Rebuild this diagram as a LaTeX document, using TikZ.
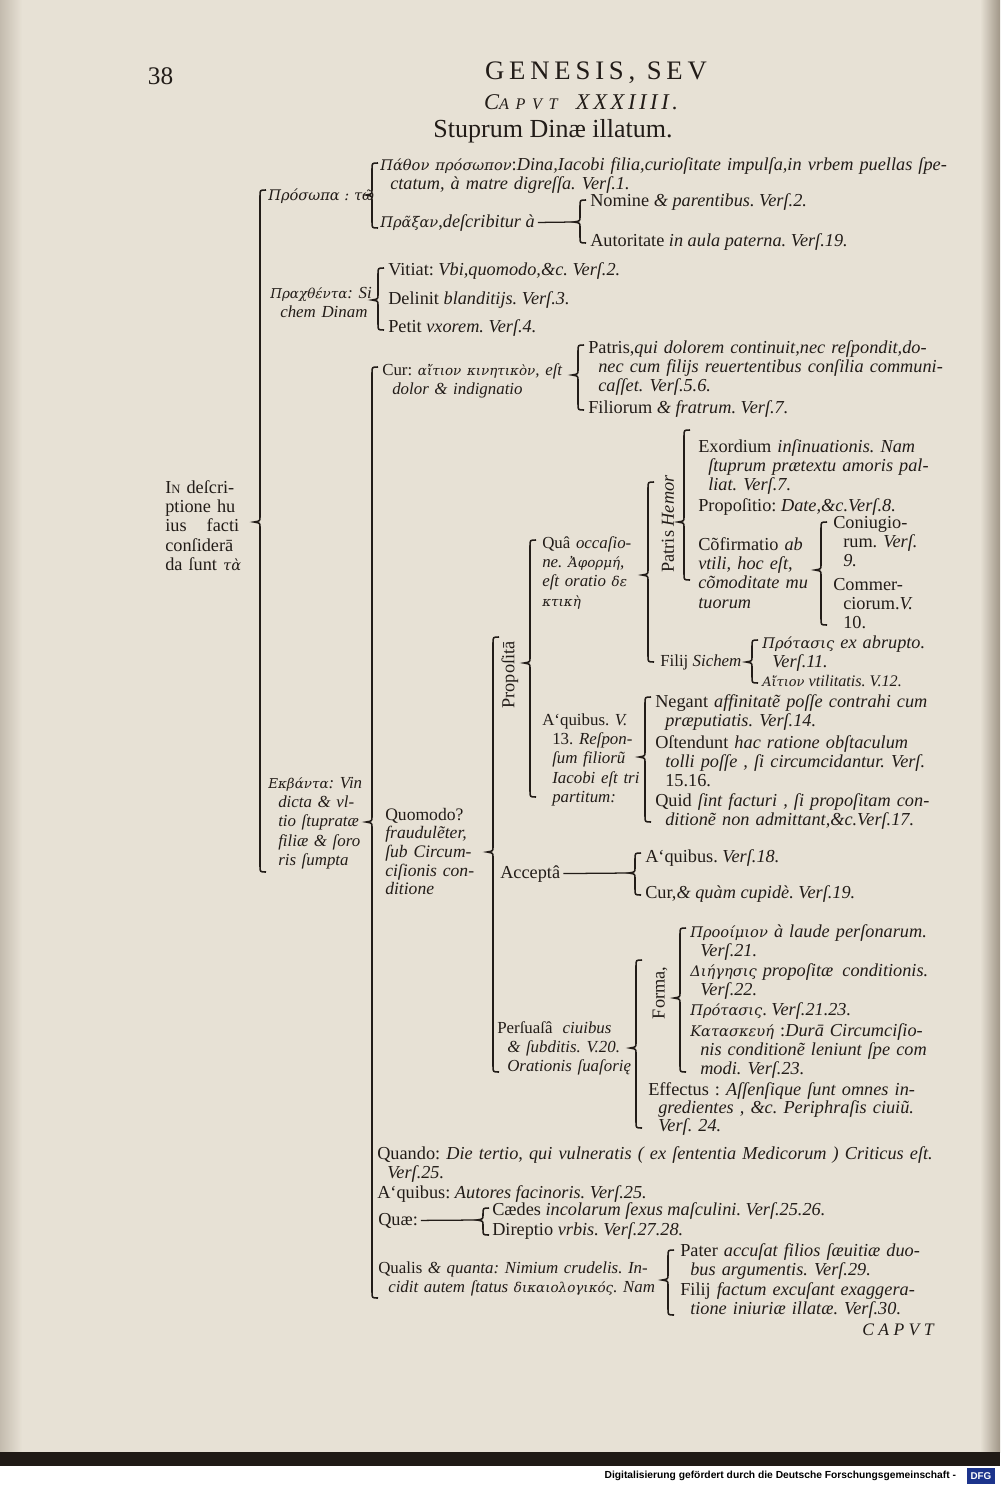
\documentclass[tikz,border=0pt]{standalone}
\usepackage{fontspec}
\setmainfont{Liberation Serif}
\newfontfamily\grk[Scale=0.8]{DejaVu Serif}
\newfontfamily\footfont{Liberation Sans}
\definecolor{paper}{RGB}{231,225,213}
\definecolor{edgegray}{RGB}{160,150,135}
\definecolor{scanblack}{RGB}{32,26,22}
\definecolor{ink}{RGB}{34,28,24}
\definecolor{dfgblue}{RGB}{28,52,140}
\newcommand{\indt}{\hspace*{0.25cm}}
\frenchspacing
% curly bracket: name, x, top, tip, bottom
\newcommand{\tiebrace}[5]{%
  \draw[brace] (#2+6,#3) .. controls (#2,#3) .. (#2,#3+6) -- (#2,#4-5)
    .. controls (#2,#4-1) .. (#2-6,#4) .. controls (#2,#4+1) .. (#2,#4+5)
    -- (#2,#5-6) .. controls (#2,#5) .. (#2+6,#5);
  \coordinate (#1) at (#2-6,#4);}
\tikzset{
  brace/.style={draw=ink, line width=1.1pt},
  entry/.style={anchor=base west, inner sep=0pt, text=ink, font=\fontsize{13}{13.8}\selectfont},
  entryblock/.style={entry, align=left, text width=16cm},
  tight/.style={font=\fontsize{12}{13.8}\selectfont},
  sidelabel/.style={rotate=90, inner sep=0pt, text=ink, font=\fontsize{13}{13.8}\selectfont},
  dashline/.style={draw=ink, line width=0.9pt, shorten <=2pt}
}
\begin{document}
\begin{tikzpicture}[x=0.025cm, y=-0.025cm]
  \useasboundingbox (0,0) rectangle (1000,1485);
  % paper and scan edges
  \fill[paper] (0,0) rectangle (1000,1452);
  \shade[left color=paper, right color=edgegray] (980,0) rectangle (1000,1452);
  \shade[left color=edgegray!50!paper, right color=paper] (0,0) rectangle (22,1452);
  \fill[scanblack] (0,1452) rectangle (1000,1466);
  \fill[white] (0,1466) rectangle (1000,1485);

  % heading
  \node[anchor=west, text=ink, font=\fontsize{18}{18}\selectfont] (pagenum) at (143,76) {38};
  \node[text=ink, font=\fontsize{19}{19}\selectfont\addfontfeatures{LetterSpace=18}] (runhead) at (596,73) {GENESIS, SEV};
  \node[text=ink, font=\fontsize{16}{16}\selectfont\itshape\addfontfeatures{LetterSpace=16}] (caput) at (581,102) {C{\fontsize{11.5}{11}\selectfont A P V T}\ \ XXXIIII.};
  \node[text=ink, font=\fontsize{18.5}{18}\selectfont] (title) at (553,131) {Stuprum Dinæ illatum.};

  % root
  \node[entryblock] (root) at (165,493) {I{\small N} deſcri-\\ptione hu\\ius\hspace{1.1em}facti\\conſiderā\\da ſunt {\grk\itshape τὰ}};

  % persons
  \node[entry] (prosopa) at (268,200) {{\grk\itshape Πρόσωπα : τῶ}};
  \node[entryblock] (pathon) at (380,170) {{\grk\itshape Πάθον πρόσωπον}:\textit{Dina,Iacobi filia,curioſitate impulſa,in vrbem puellas ſpe-}\\\indt\textit{ctatum, à matre digreſſa. Verſ.1.}};
  \node[entry] (praxan) at (380,227) {{\grk\itshape Πρᾶξαν},\textit{deſcribitur à}};
  \node[entry] (nomine) at (590,206) {Nomine \textit{\& parentibus. Verſ.2.}};
  \node[entry] (autoritate) at (590,246) {Autoritate \textit{in aula paterna. Verſ.19.}};

  % deeds
  \node[entryblock, tight] (prachthenta) at (270,298) {\textit{{\grk Πραχθέντα}: Si}\\\indt\textit{chem Dinam}};
  \node[entry] (vitiat) at (388,275) {Vitiat: \textit{Vbi,quomodo,\&c. Verſ.2.}};
  \node[entry] (delinit) at (388,304) {Delinit \textit{blanditijs. Verſ.3.}};
  \node[entry] (petit) at (388,332) {Petit \textit{vxorem. Verſ.4.}};

  % outcomes
  \node[entryblock, tight] (ekbanta) at (268,788) {\textit{{\grk Εκβάντα}: Vin}\\\indt\textit{dicta \& vl-}\\\indt\textit{tio ſtupratæ}\\\indt\textit{filiæ \& ſoro}\\\indt\textit{ris ſumpta}};
  \node[entryblock, tight] (cur) at (382,375) {Cur: \textit{{\grk αἴτιον κινητικὸν}, eſt}\\\indt\textit{dolor \& indignatio}};
  \node[entryblock] (patris) at (588,353) {Patris,\textit{qui dolorem continuit,nec reſpondit,do-}\\\indt\textit{nec cum filijs reuertentibus conſilia communi-}\\\indt\textit{caſſet. Verſ.5.6.}};
  \node[entry] (filiorum) at (588,413) {Filiorum \textit{\& fratrum. Verſ.7.}};

  \node[entryblock, font=\fontsize{12.5}{13.3}\selectfont] (quomodo) at (385,820) {Quomodo?\\\textit{fraudulẽter,}\\\textit{ſub Circum-}\\\textit{ciſionis con-}\\\textit{ditione}};
  \node[sidelabel] (proposita) at (510,675) {Propoſitā};

  \node[entryblock, tight] (qua) at (542,548) {Quâ \textit{occaſio-}\\\textit{ne. {\grk Ἀφορμή},}\\\textit{eſt oratio {\grk δε}}\\\textit{{\grk κτικὴ}}};
  \node[sidelabel] (hemor) at (668,524) {Patris \textit{Hemor}};
  \node[entryblock] (exordium) at (698,452) {Exordium \textit{inſinuationis. Nam}\\\indt\textit{ſtuprum prætextu amoris pal-}\\\indt\textit{liat. Verſ.7.}};
  \node[entry] (propositio) at (698,511) {Propoſitio: \textit{Date,\&c.Verſ.8.}};
  \node[entryblock] (confirmatio) at (698,550) {Cõfirmatio \textit{ab}\\\textit{vtili, hoc eſt,}\\\textit{cõmoditate mu}\\\textit{tuorum}};
  \node[entryblock] (coniugio) at (833,528) {Coniugio-\\\indt rum. \textit{Verſ.}\\\indt\textit{9.}};
  \node[entryblock] (commer) at (833,590) {Commer-\\\indt ciorum.\textit{V.}\\\indt 10.};
  \node[entry, tight] (sichem) at (660,666) {Filij \textit{Sichem}};
  \node[entryblock] (protasis) at (762,648) {{\grk\itshape Πρότασις} \textit{ex abrupto.}\\\indt\textit{Verſ.11.}};
  \node[entry, font=\fontsize{11.5}{12}\selectfont] (aition) at (762,686) {{\grk\itshape Αἴτιον} \textit{vtilitatis. V.12.}};

  \node[entryblock, tight] (aquibus) at (542,725) {A‘quibus. \textit{V.}\\\indt 13. \textit{Reſpon-}\\\indt\textit{ſum filiorũ}\\\indt\textit{Iacobi eſt tri}\\\indt\textit{partitum:}};
  \node[entryblock] (negant) at (655,707) {Negant \textit{affinitatẽ poſſe contrahi cum}\\\indt\textit{præputiatis. Verſ.14.}};
  \node[entryblock] (ostendunt) at (655,748) {Oſtendunt \textit{hac ratione obſtaculum}\\\indt\textit{tolli poſſe , ſi circumcidantur. Verſ.}\\\indt 15.16.};
  \node[entryblock] (quid) at (655,806) {Quid \textit{ſint facturi , ſi propoſitam con-}\\\indt\textit{ditionẽ non admittant,\&c.Verſ.17.}};

  \node[entry] (accepta) at (500,878) {Acceptâ};
  \node[entry] (acceptquibus) at (645,862) {A‘quibus. \textit{Verſ.18.}};
  \node[entry] (cupide) at (645,898) {Cur,\textit{\& quàm cupidè. Verſ.19.}};

  \node[entryblock, tight] (persuasa) at (497,1033) {Perſuaſâ\hspace{0.6em}\textit{ciuibus}\\\indt\textit{\& ſubditis. V.20.}\\\indt\textit{Orationis ſuaſorię}};
  \node[sidelabel] (forma) at (660,993) {Forma,};
  \node[entryblock] (prooem) at (690,937) {{\grk\itshape Προοίμιον} \textit{à laude perſonarum.}\\\indt\textit{Verſ.21.}};
  \node[entryblock] (diegesis) at (690,976) {{\grk\itshape Διήγησις} \textit{propoſitæ\hspace{0.5em}conditionis.}\\\indt\textit{Verſ.22.}};
  \node[entry] (protasis2) at (690,1015) {{\grk\itshape Πρότασις}. \textit{Verſ.21.23.}};
  \node[entryblock] (kataskeue) at (690,1036) {{\grk\itshape Κατασκευή} :\textit{Durā Circumciſio-}\\\indt\textit{nis conditionẽ leniunt ſpe com}\\\indt\textit{modi. Verſ.23.}};
  \node[entryblock, font=\fontsize{13}{12.8}\selectfont] (effectus) at (648,1095) {Effectus : \textit{Aſſenſique ſunt omnes in-}\\\indt\textit{gredientes , \&c. Periphraſis ciuiũ.}\\\indt\textit{Verſ. 24.}};

  \node[entryblock] (quando) at (377,1159) {Quando: \textit{Die tertio, qui vulneratis ( ex ſententia Medicorum ) Criticus eſt.}\\\indt\textit{Verſ.25.}};
  \node[entry] (autores) at (377,1198) {A‘quibus: \textit{Autores facinoris. Verſ.25.}};
  \node[entry] (quae) at (378,1225) {Quæ:};
  \node[entry] (caedes) at (492,1215) {Cædes \textit{incolarum ſexus maſculini. Verſ.25.26.}};
  \node[entry] (direptio) at (492,1235) {Direptio \textit{vrbis. Verſ.27.28.}};
  \node[entryblock, tight] (qualis) at (378,1273) {Qualis \textit{\& quanta: Nimium crudelis. In-}\\\indt\textit{cidit autem ſtatus {\grk δικαιολογικός}. Nam}};
  \node[entryblock] (pater) at (680,1256) {Pater \textit{accuſat filios ſæuitiæ duo-}\\\indt\textit{bus argumentis. Verſ.29.}};
  \node[entryblock] (filij) at (680,1295) {Filij \textit{factum excuſant exaggera-}\\\indt\textit{tione iniuriæ illatæ. Verſ.30.}};
  \node[entry, font=\fontsize{12.5}{12}\selectfont\itshape] (catchword) at (862,1335) {C A P V T};

  % brackets
  \tiebrace{root-tip}{260}{190}{522}{872}
  \tiebrace{prosopa-tip}{372}{163}{195}{228}
  \tiebrace{praxan-tip}{580}{200}{222}{243}
  \tiebrace{prachthenta-tip}{378}{268}{300}{330}
  \tiebrace{ekbanta-tip}{372}{367}{822}{1298}
  \tiebrace{cur-tip}{578}{345}{375}{410}
  \tiebrace{quomodo-tip}{493}{637}{852}{1072}
  \tiebrace{proposita-tip}{530}{540}{663}{797}
  \tiebrace{qua-tip}{648}{482}{575}{662}
  \tiebrace{hemor-tip}{684}{430}{522}{580}
  \tiebrace{confirmatio-tip}{821}{522}{570}{625}
  \tiebrace{sichem-tip}{752}{640}{662}{683}
  \tiebrace{aquibus-tip}{645}{697}{757}{822}
  \tiebrace{accepta-tip}{635}{853}{873}{895}
  \tiebrace{persuasa-tip}{636}{960}{1048}{1128}
  \tiebrace{forma-tip}{680}{928}{998}{1072}
  \tiebrace{quae-tip}{483}{1208}{1220}{1235}
  \tiebrace{qualis-tip}{668}{1250}{1280}{1315}

  % dashes
  \draw[dashline] (praxan.east) -- (praxan-tip);
  \draw[dashline] (accepta.east) -- (accepta-tip);
  \draw[dashline] (quae.east) -- (quae-tip);

  % scan footer
  \node[anchor=east, text=black, font=\footfont\fontsize{7.3}{8}\selectfont\bfseries] (credit) at (961,1476) {Digitalisierung gefördert durch die Deutsche Forschungsgemeinschaft -};
  \node[fill=dfgblue, text=white, inner sep=1pt, minimum width=0.7cm, minimum height=0.4cm, font=\footfont\fontsize{7}{7}\selectfont\bfseries] (dfg) at (981,1476) {DFG};
\end{tikzpicture}
\end{document}
